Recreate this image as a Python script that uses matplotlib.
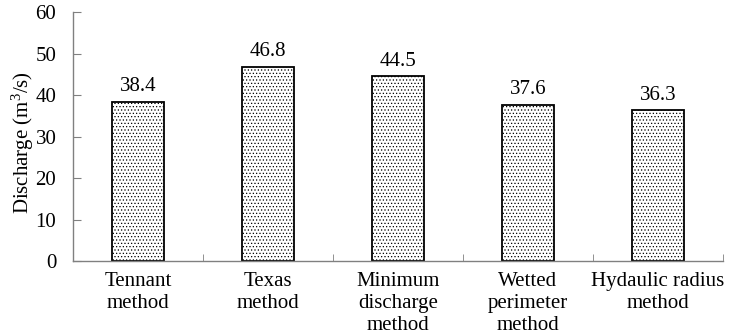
import matplotlib
matplotlib.use("Agg")
import matplotlib.pyplot as plt
import numpy as np

categories = ["Tennant\nmethod", "Texas\nmethod", "Minimum\ndischarge\nmethod",
              "Wetted\nperimeter\nmethod", "Hydaulic radius\nmethod"]
values = [38.4, 46.8, 44.5, 37.6, 36.3]
value_labels = ["38.4", "46.8", "44.5", "37.6", "36.3"]
yticks = [0, 10, 20, 30, 40, 50, 60]

plt.rcParams['font.family'] = ['Liberation Serif', 'DejaVu Serif']
plt.rcParams['mathtext.fontset'] = 'custom'
plt.rcParams['mathtext.rm'] = 'Liberation Serif'
plt.rcParams['mathtext.it'] = 'Liberation Serif:italic'
plt.rcParams['mathtext.default'] = 'regular'
plt.rcParams['hatch.linewidth'] = 0.5

fig = plt.figure(figsize=(7.33, 3.36), dpi=100)
ax = fig.add_axes([0.0996, 0.223, 0.8868, 0.741])

x = np.arange(len(values))
bars = ax.bar(x, values, width=0.4, facecolor='white', edgecolor='black',
              linewidth=1.3, hatch='.....')
for xi, v, lab in zip(x, values, value_labels):
    ax.annotate(lab, (xi, v), xytext=(0, 4), textcoords='offset points',
                ha='center', va='bottom', fontsize=15)

ax.set_xlim(-0.5, len(values) - 0.5)
ax.set_ylim(0, 60)
ax.set_yticks(yticks)
ax.set_xticks(x)
ax.set_xticklabels(categories, fontsize=15, linespacing=1.2)
ax.set_xticks(np.arange(len(values) + 1) - 0.5, minor=True)
ax.tick_params(axis='x', which='major', length=0, pad=8)
ax.tick_params(axis='x', which='minor', direction='in', length=5, color='#808080')
ax.tick_params(axis='y', direction='in', length=6, color='#808080', labelsize=15, pad=12)
ax.set_ylabel("Discharge (m$^{3}$/s)", fontsize=15)
ax.yaxis.set_label_coords(-0.057, 0.478)

for s in ['top', 'right']:
    ax.spines[s].set_visible(False)
for s in ['left', 'bottom']:
    ax.spines[s].set_color('#808080')
    ax.spines[s].set_linewidth(1.0)

fig.savefig("out.png", dpi=100)
